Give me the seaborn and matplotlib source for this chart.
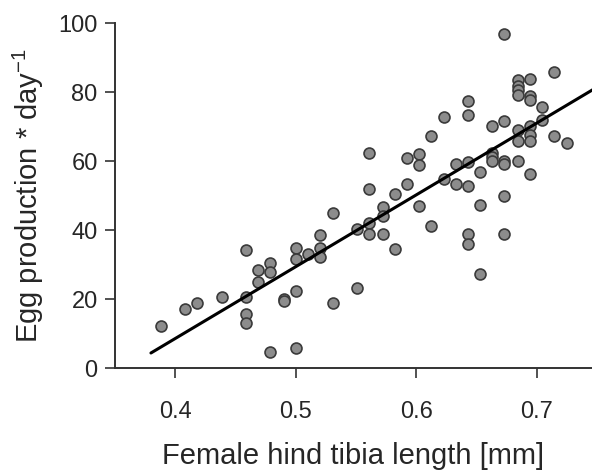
import numpy as np
import pandas as pd
import seaborn as sns
import matplotlib.pyplot as plt

# Female hind tibia length [mm]
tibia_mm = [
    0.388, 0.408, 0.418, 0.439, 0.459, 0.459, 0.459, 0.459, 0.469, 0.469,
    0.479, 0.479, 0.479, 0.490, 0.490, 0.500, 0.500, 0.500, 0.500, 0.510,
    0.520, 0.520, 0.520, 0.531, 0.531, 0.551, 0.551, 0.561, 0.561, 0.561,
    0.561, 0.572, 0.572, 0.572, 0.582, 0.582, 0.592, 0.592, 0.602, 0.602,
    0.602, 0.612, 0.612, 0.623, 0.623, 0.633, 0.633, 0.643, 0.643, 0.643,
    0.643, 0.643, 0.643, 0.653, 0.653, 0.653, 0.663, 0.663, 0.663, 0.663,
    0.673, 0.673, 0.673, 0.673, 0.673, 0.673, 0.684, 0.684, 0.684, 0.684,
    0.684, 0.684, 0.684, 0.694, 0.694, 0.694, 0.694, 0.694, 0.694, 0.694,
    0.704, 0.704, 0.714, 0.714, 0.725,
]
# Egg production per day
eggs_per_day = [
    12.2, 17.2, 19.0, 20.8, 34.4, 20.8, 15.7, 13.1, 28.6, 25.1,
    30.4, 27.8, 4.8, 20.1, 19.5, 34.9, 31.7, 22.4, 5.9, 33.2,
    38.5, 34.9, 32.3, 45.0, 18.9, 40.4, 23.2, 62.5, 51.9, 42.1,
    38.8, 46.8, 44.1, 38.8, 50.6, 34.5, 61.0, 53.3, 62.2, 58.8,
    47.0, 67.4, 41.2, 72.7, 54.8, 59.1, 53.5, 77.5, 73.5, 59.7,
    52.9, 38.8, 36.1, 56.9, 47.2, 27.4, 70.1, 62.4, 61.2, 60.0,
    97.0, 71.7, 60.1, 59.1, 49.9, 38.8, 83.7, 81.9, 80.6, 79.2,
    69.2, 65.9, 60.2, 83.8, 78.8, 77.8, 70.2, 67.7, 65.9, 56.4,
    75.6, 71.9, 86.0, 67.2, 65.2,
]
x_ticks = [0.4, 0.5, 0.6, 0.7]
y_ticks = [0, 20, 40, 60, 80, 100]

sns.set_theme(style="ticks")
plt.rcParams['font.family'] = ['Liberation Sans', 'DejaVu Sans']
plt.rcParams['mathtext.default'] = 'regular'

text_col = '#262626'
fig = plt.figure(figsize=(5.92, 4.71), dpi=100)
ax = fig.add_axes([115 / 592, 102.7 / 471, (592 - 115) / 592, (447.7 - 102.7) / 471])

df = pd.DataFrame({'tibia': tibia_mm, 'eggs': eggs_per_day})
sns.scatterplot(data=df, x='tibia', y='eggs', ax=ax, s=62, color='#8c8c8c',
                edgecolor='#3a3a3a', linewidth=1.2, legend=False, zorder=3)

slope, intercept = np.polyfit(df['tibia'], df['eggs'], 1)
xl = np.array([0.38, 0.75])
sns.lineplot(x=xl, y=intercept + slope * xl, ax=ax, color='black', linewidth=2.2, zorder=4)

ax.set_xlim(0.3502, 0.7456)
ax.set_ylim(0, 100)
ax.set_xticks(x_ticks)
ax.set_xticklabels([f"{t:.1f}" for t in x_ticks])
ax.set_yticks(y_ticks)
ax.set_yticklabels([str(t) for t in y_ticks])

for side in ['top', 'right']:
    ax.spines[side].set_visible(False)
for side in ['left', 'bottom']:
    ax.spines[side].set_linewidth(1.4)
    ax.spines[side].set_color('#333333')

ax.tick_params(axis='both', direction='out', length=7.5, width=1.2, color='#333333',
               labelsize=17, labelcolor=text_col)
ax.tick_params(axis='x', pad=16)
ax.tick_params(axis='y', pad=5)

ax.set_xlabel('Female hind tibia length [mm]', fontsize=21, color=text_col, labelpad=14)
ax.set_ylabel('Egg production * day$^{-1}$', fontsize=21, color=text_col, labelpad=9)

fig.savefig('out.png', dpi=100)
